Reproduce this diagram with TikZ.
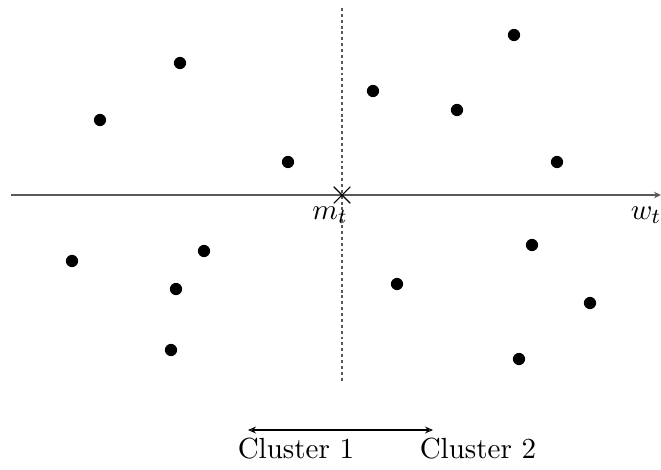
\documentclass[tikz,border=0pt]{standalone}
\usepackage{amsmath}
\usetikzlibrary{arrows.meta, shapes.misc}

\begin{document}
\begin{tikzpicture}[
    x=0.375pt, y=-0.375pt,
    pt/.style={circle, fill=black, minimum size=4.6pt, inner sep=0pt},
    ctip/.tip={Stealth[open, length=3pt, width=2.6pt]},
    ax/.style={draw=black!65, line width=0.55pt, -{Stealth[open, length=2.6pt, width=2.4pt]}},
    sep/.style={draw=black!65, line width=0.55pt, dash pattern=on 1.1pt off 1.1pt},
    cen/.style={cross out, draw, minimum size=5.8pt, inner sep=0pt, line width=0.4pt},
    lbl/.style={inner sep=0pt, font=\fontsize{10.9}{13}\selectfont}
  ]
    \useasboundingbox (0,0) rectangle (661,469);

    % --- axes ---
    \coordinate (wl) at (11,195);
    \coordinate (wr) at (661,195);
    \coordinate (st) at (342,8);
    \coordinate (sb) at (342,383);
    \draw[ax]  (wl) -- (wr);
    \draw[sep] (st) -- (sb);
    \node[cen] (m) at (342,195) {};
    \node[lbl] (mt) at (330,215) {$m_t$};
    \node[lbl] (wt) at (646,215) {$w_t$};

    % --- points ---
    \node[pt] (p1)  at (180,63)  {};
    \node[pt] (p2)  at (100,120) {};
    \node[pt] (p3)  at (288,162) {};
    \node[pt] (p4)  at (72,261)  {};
    \node[pt] (p5)  at (204,251) {};
    \node[pt] (p6)  at (176,289) {};
    \node[pt] (p7)  at (171,350) {};
    \node[pt] (q1)  at (514,35)  {};
    \node[pt] (q2)  at (373,91)  {};
    \node[pt] (q3)  at (457,110) {};
    \node[pt] (q4)  at (557,162) {};
    \node[pt] (q5)  at (532,245) {};
    \node[pt] (q6)  at (397,284) {};
    \node[pt] (q7)  at (590,303) {};
    \node[pt] (q8)  at (519,359) {};

    % --- clusters ---
    \node[lbl] (cl1) at (296,449) {Cluster 1};
    \node[lbl] (cl2) at (478,449) {Cluster 2};
    \coordinate (a1) at (248,430);
    \coordinate (a2) at (433,430);
    \draw[ctip-ctip, line width=0.4pt] (a1) -- (a2);
\end{tikzpicture}
\end{document}
